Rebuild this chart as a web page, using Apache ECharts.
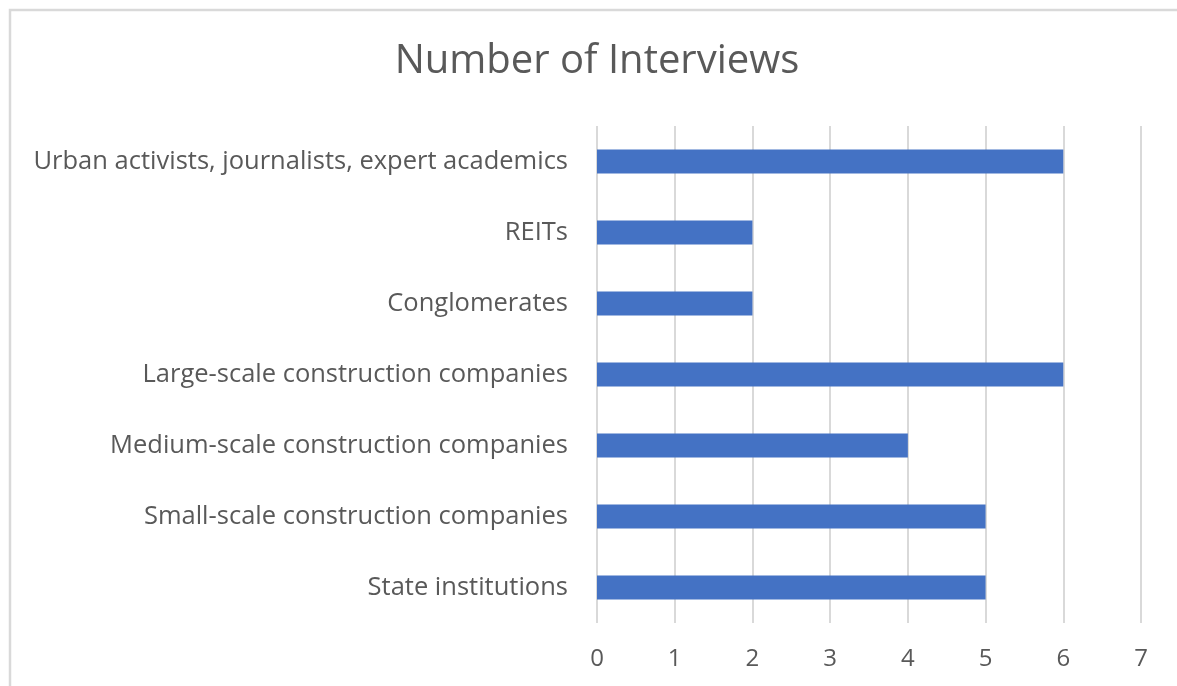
<!DOCTYPE html>
<html>
<head>
<meta charset="utf-8">
<script src="https://cdn.jsdelivr.net/npm/echarts@6/dist/echarts.min.js"></script>
<style>
  html, body { margin: 0; padding: 0; background: #fff; }
  #chart { width: 1177px; height: 686px; }
</style>
</head>
<body>
<div id="chart"></div>
<script>
// Interview groups, listed bottom to top as drawn on the category axis
const categories = [
  'State institutions',
  'Small-scale construction companies',
  'Medium-scale construction companies',
  'Large-scale construction companies',
  'Conglomerates',
  'REITs',
  'Urban activists, journalists, expert academics'
];
const interviews = [5, 5, 4, 6, 2, 2, 6];
const xTicks = [0, 1, 2, 3, 4, 5, 6, 7];

const chart = echarts.init(document.getElementById('chart'), null, { renderer: 'canvas' });
const textColor = '#595959';
const font = '"Open Sans", sans-serif';

chart.setOption({
  backgroundColor: '#ffffff',
  animation: false,
  graphic: [{
    type: 'rect',
    shape: { x: 10, y: 10, width: 1400, height: 900 },
    style: { fill: 'none', stroke: '#d9d9d9', lineWidth: 2.5 },
    silent: true
  }],
  title: {
    text: 'Number of Interviews',
    left: 592,
    textAlign: 'center',
    top: 37,
    textStyle: { color: textColor, fontSize: 40, fontWeight: 'normal', fontFamily: font }
  },
  grid: { left: 597, right: 1177 - 1141, top: 126, bottom: 686 - 623, containLabel: false },
  xAxis: {
    type: 'value',
    min: xTicks[0],
    max: xTicks[xTicks.length - 1],
    interval: 1,
    axisLine: { show: false },
    axisTick: { show: false },
    axisLabel: { color: textColor, fontSize: 24, fontFamily: font, margin: 24 },
    splitLine: { show: true, lineStyle: { color: '#d9d9d9', width: 2 } }
  },
  yAxis: {
    type: 'category',
    data: categories,
    axisLine: { show: false },
    axisTick: { show: false },
    axisLabel: { color: textColor, fontSize: 25.5, fontFamily: font, margin: 29 }
  },
  series: [{
    type: 'bar',
    data: interviews,
    barWidth: 24,
    itemStyle: { color: '#4472c4' }
  }]
});
</script>
</body>
</html>
